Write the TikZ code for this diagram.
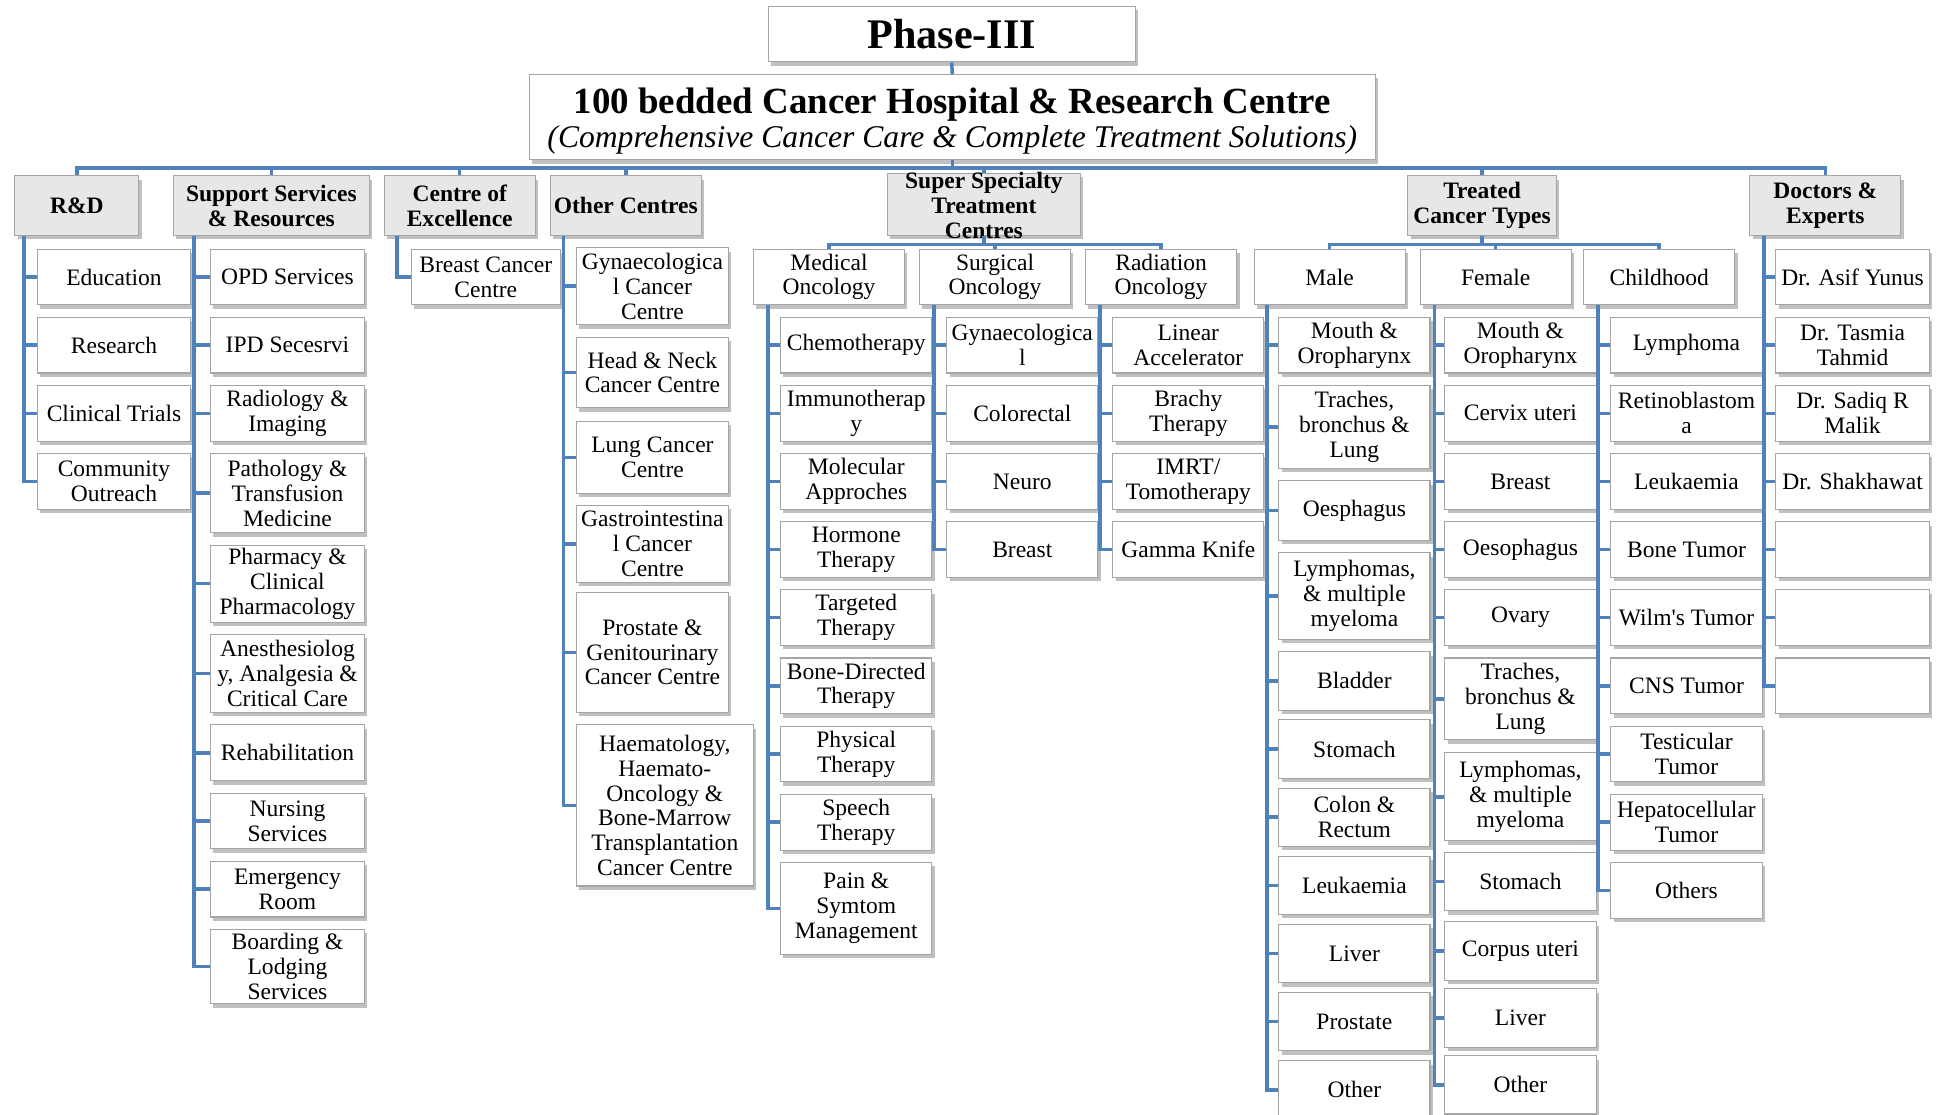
\documentclass[tikz,border=0pt]{standalone}
\usepackage{fontspec}
\setmainfont{Liberation Serif}
\usepackage{tikz}
\usetikzlibrary{calc,shadows}
\usepackage{xcolor}
\definecolor{linkblue}{RGB}{79,129,189}
\definecolor{headgray}{RGB}{231,231,231}
\definecolor{edgegray}{RGB}{165,165,165}

\tikzset{
  box/.style={draw=edgegray, fill=white, line width=0.6pt, align=center, inner sep=1pt,
    font=\fontsize{13.4}{14.1}\selectfont,
    minimum width=122*0.0248cm, minimum height=45*0.0248cm,
    drop shadow={shadow xshift=1.6pt, shadow yshift=-2.2pt, fill=black!45, opacity=0.55}},
  head/.style={box, fill=headgray, font=\fontsize{13.4}{14.1}\selectfont\bfseries, minimum height=48*0.0248cm},
  boxw/.style={minimum width=#1*0.0248cm},
  boxh/.style={minimum height=#1*0.0248cm},
  link/.style={draw=linkblue, line width=2pt},
}

\begin{document}
\begin{tikzpicture}[x=0.0248cm,y=-0.0248cm]
    \useasboundingbox (0,0) rectangle (1568,899);

    % Top
    \node[box, boxw=296, boxh=45, font=\fontsize{24}{26}\selectfont\bfseries] (phase) at (768,27.5) {Phase-III};
    \node[box, boxw=683, boxh=69, font=\fontsize{18}{19.8}\selectfont] (main) at (768.5,94.5)
      {{\fontsize{21}{19.8}\selectfont\bfseries\rule{0pt}{19pt}100 bedded Cancer Hospital \& Research Centre}\\
       {\itshape (Comprehensive Cancer Care \& Complete Treatment Solutions)}};
    \draw[link] (phase.south) -- (main.north);

    % First level
    \node[head, boxw=100] (rd)  at (62,166)   {R\&D};
    \node[head, boxw=158] (sup) at (219,166)  {Support Services\\\& Resources};
    \node[head, boxw=122] (coe) at (371,166)  {Centre of\\Excellence};
    \node[head, boxw=122] (oth) at (505,166)  {Other Centres};
    \node[head, boxw=156, boxh=50] (ssc) at (794,165) {};
    \node[font=\fontsize{13.4}{14.1}\selectfont\bfseries, align=center, inner sep=0pt] (ssct) at (794,166) {Super Specialty\\Treatment\\Centres};
    \node[head, boxw=120] (tct) at (1196,166) {Treated\\Cancer Types};
    \node[head, boxw=122] (doc) at (1473,166) {Doctors \&\\Experts};
    \foreach \nm in {rd,sup,coe,oth,ssc,tct,doc}
      \draw[link] (main.south) -- ++(0,6) -| (\nm.north);

    % Second level
    \node[box] (med)  at (669,223.5)  {Medical\\Oncology};
    \node[box] (sur)  at (803,223.5)  {Surgical\\Oncology};
    \node[box] (rad)  at (937,223.5)  {Radiation\\Oncology};
    \node[box] (male) at (1073,223.5) {Male};
    \node[box] (fem)  at (1207,223.5) {Female};
    \node[box] (chi)  at (1339,223.5) {Childhood};
    \foreach \nm in {med,sur,rad}
      \draw[link] (ssc.south) -- ++(0,7) -| (\nm.north);
    \foreach \nm in {male,fem,chi}
      \draw[link] (tct.south) -- ++(0,7) -| (\nm.north);

    % R&D
    \foreach \nm/\y/\hh/\txt in {edu/223.5/45/Education, res/278.5/45/Research,
        cli/333.5/45/Clinical Trials, com/388.5/45/Community\\Outreach}
      \node[box, boxw=124, boxh=\hh] (\nm) at (92,\y) {\txt};
    \foreach \nm in {edu,res,cli,com}
      \draw[link] ($(rd.south west)+(8,0)$) |- (\nm.west);

    % Support Services
    \foreach \nm/\y/\hh/\txt in {opd/223.5/45/OPD Services, ipd/278.5/45/IPD Secesrvi,
        radi/333.5/45/Radiology \&\\Imaging, path/398/64/Pathology \&\\Transfusion\\Medicine,
        phar/471/62/Pharmacy \&\\Clinical\\Pharmacology,
        anes/543.5/63/{Anesthesiolog\\y, Analgesia \&\\Critical Care},
        rehab/607.5/45/Rehabilitation, nurs/662.5/45/Nursing\\Services,
        emer/717.5/45/Emergency\\Room, board/780/60/Boarding \&\\Lodging\\Services}
      \node[box, boxw=124, boxh=\hh] (\nm) at (232,\y) {\txt};
    \foreach \nm in {opd,ipd,radi,path,phar,anes,rehab,nurs,emer,board}
      \draw[link] ($(sup.south west)+(17,0)$) |- (\nm.west);

    % Centre of Excellence
    \node[box, boxw=120] (bcc) at (392,223.5) {Breast Cancer\\Centre};
    \draw[link] ($(coe.south west)+(11,0)$) |- (bcc.west);

    % Other Centres
    \foreach \nm/\y/\hh/\txt in {gyn/231/62/Gynaecologica\\l Cancer\\Centre,
        hn/300.5/57/Head \& Neck\\Cancer Centre, lung/369/58/Lung Cancer\\Centre,
        gast/439/62/Gastrointestina\\l Cancer\\Centre,
        pros/526.5/97/Prostate \&\\Genitourinary\\Cancer Centre}
      \node[box, boxw=123, boxh=\hh] (\nm) at (526.5,\y) {\txt};
    \node[box, boxw=143, boxh=130] (haem) at (536.5,650)
      {Haematology,\\Haemato-\\Oncology \&\\Bone-Marrow\\Transplantation\\Cancer Centre};
    \foreach \nm in {gyn,hn,lung,gast,pros,haem}
      \draw[link] ($(oth.south west)+(11,0)$) |- (\nm.west);

    % Medical Oncology
    \foreach \nm/\y/\hh/\txt in {chemo/278.5/45/Chemotherapy, immu/333.5/45/Immunotherap\\y,
        mol/388.5/45/Molecular\\Approches, horm/443.5/45/Hormone\\Therapy,
        targ/498.5/45/Targeted\\Therapy, bone/553.5/45/Bone-Directed\\Therapy,
        phys/608.5/45/Physical\\Therapy, spee/663.5/45/Speech\\Therapy,
        pain/733/74/Pain \&\\Symtom\\Management}
      \node[box, boxh=\hh] (\nm) at (691,\y) {\txt};
    \foreach \nm in {chemo,immu,mol,horm,targ,bone,phys,spee,pain}
      \draw[link] ($(med.south west)+(12,0)$) |- (\nm.west);

    % Surgical Oncology
    \foreach \nm/\y/\txt in {sgyn/278.5/Gynaecologica\\l, colo/333.5/Colorectal,
        neuro/388.5/Neuro, sbre/443.5/Breast}
      \node[box] (\nm) at (825,\y) {\txt};
    \foreach \nm in {sgyn,colo,neuro,sbre}
      \draw[link] ($(sur.south west)+(12,0)$) |- (\nm.west);

    % Radiation Oncology
    \foreach \nm/\y/\txt in {lin/278.5/Linear\\Accelerator, bra/333.5/Brachy\\Therapy,
        imrt/388.5/{IMRT/\\Tomotherapy}, gam/443.5/Gamma Knife}
      \node[box] (\nm) at (959,\y) {\txt};
    \foreach \nm in {lin,bra,imrt,gam}
      \draw[link] ($(rad.south west)+(12,0)$) |- (\nm.west);

    % Male
    \foreach \nm/\y/\hh/\txt in {m1/278.5/45/Mouth \&\\Oropharynx,
        m2/344.5/67/{Traches,\\bronchus \&\\Lung}, m3/412/48/Oesphagus,
        m4/481/70/{Lymphomas,\\\& multiple\\myeloma}, m5/549.5/47/Bladder,
        m6/604.5/47/Stomach, m7/659.5/47/Colon \&\\Rectum, m8/714.5/47/Leukaemia,
        m9/769.5/47/Liver, m10/824.5/47/Prostate, m11/879.5/47/Other}
      \node[box, boxh=\hh] (\nm) at (1093,\y) {\txt};
    \foreach \nm in {m1,m2,m3,m4,m5,m6,m7,m8,m9,m10,m11}
      \draw[link] ($(male.south west)+(11,0)$) |- (\nm.west);

    % Female
    \foreach \nm/\y/\hh/\txt in {f1/278.5/45/Mouth \&\\Oropharynx, f2/333.5/45/Cervix uteri,
        f3/388.5/45/Breast, f4/443.5/45/Oesophagus, f5/498.5/45/Ovary,
        f6/564/66/{Traches,\\bronchus \&\\Lung}, f7/643/71/{Lymphomas,\\\& multiple\\myeloma},
        f8/711.5/47/Stomach, f9/767.5/47/Corpus uteri, f10/821.5/47/Liver,
        f11/875.5/47/Other}
      \node[box, boxh=\hh] (\nm) at (1227,\y) {\txt};
    \foreach \nm in {f1,f2,f3,f4,f5,f6,f7,f8,f9,f10,f11}
      \draw[link] ($(fem.south west)+(12,0)$) |- (\nm.west);

    % Childhood
    \foreach \nm/\y/\txt in {c1/278.5/Lymphoma, c2/333.5/Retinoblastom\\a,
        c3/388.5/Leukaemia, c4/443.5/Bone Tumor, c5/498.5/Wilm\textquotesingle s Tumor,
        c6/553.5/CNS Tumor, c7/608.5/Testicular\\Tumor, c8/663.5/Hepatocellular\\Tumor,
        c9/718.5/Others}
      \node[box] (\nm) at (1361,\y) {\txt};
    \foreach \nm in {c1,c2,c3,c4,c5,c6,c7,c8,c9}
      \draw[link] ($(chi.south west)+(12,0)$) |- (\nm.west);

    % Doctors
    \foreach \nm/\y/\txt in {d1/223.5/Dr. Asif Yunus, d2/278.5/Dr. Tasmia\\Tahmid,
        d3/333.5/Dr. Sadiq R\\Malik, d4/388.5/Dr. Shakhawat, d5/443.5/{},
        d6/498.5/{}, d7/553.5/{}}
      \node[box, boxw=124] (\nm) at (1495,\y) {\txt};
    \foreach \nm in {d1,d2,d3,d4,d5,d6,d7}
      \draw[link] ($(doc.south west)+(12,0)$) |- (\nm.west);
\end{tikzpicture}
\end{document}
